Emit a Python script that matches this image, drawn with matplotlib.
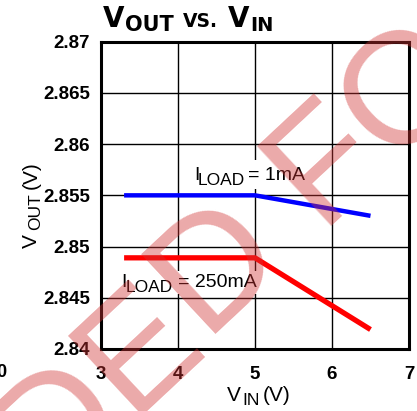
import matplotlib
matplotlib.use("Agg")
import matplotlib.pyplot as plt
from matplotlib.patches import Rectangle

# ---- data ----
vin_1ma = [3.3, 5.0, 6.5]
vout_1ma = [2.855, 2.855, 2.853]
vin_250ma = [3.3, 5.0, 6.5]
vout_250ma = [2.8489, 2.8489, 2.8419]
xticks = [3, 4, 5, 6, 7]
yticks = [2.84, 2.845, 2.85, 2.855, 2.86, 2.865, 2.87]
ytick_labels = ["2.84", "2.845", "2.85", "2.855", "2.86", "2.865", "2.87"]

W, H = 417, 411
FONT = "Liberation Sans"
TFONT = "DejaVu Sans"

fig = plt.figure(figsize=(W / 100, H / 100), dpi=100)
ax = fig.add_axes([101 / W, 1 - 349 / H, (409 - 101) / W, (349 - 41.7) / H])

ax.set_xlim(3, 7)
ax.set_ylim(2.84, 2.87)
ax.set_xticks(xticks)
ax.set_yticks(yticks)
ax.set_yticklabels(ytick_labels)
ax.grid(True, color="black", linewidth=1.0)
ax.set_axisbelow(True)
for s in ax.spines.values():
    s.set_linewidth(2.2)
    s.set_color("black")
ax.tick_params(length=0, pad=8)
for lab in ax.get_xticklabels() + ax.get_yticklabels():
    lab.set_fontfamily(FONT)
    lab.set_fontweight("bold")
    lab.set_fontsize(13.5)
ax.tick_params(axis="x", pad=12)

ax.plot(vin_1ma, vout_1ma, color="#0000ff", linewidth=3.2, zorder=3, solid_capstyle="butt")
ax.plot(vin_250ma, vout_250ma, color="#ff0000", linewidth=3.8, zorder=3, solid_capstyle="butt")


def px(x, y):
    return x / W, 1 - y / H


def ptext(x, y, s, size, weight="normal", family=FONT, **kw):
    fx, fy = px(x, y)
    return fig.text(fx, fy, s, fontsize=size, fontfamily=family, fontweight=weight,
                    va="baseline", ha="left", **kw)


# white boxes behind annotations
for (x0, y0, x1, y1) in [(190, 160, 312, 189), (118, 271, 259, 294)]:
    fx0, fy1 = px(x0, y0)
    fx1, fy0 = px(x1, y1)
    fig.patches.append(Rectangle((fx0, fy0), fx1 - fx0, fy1 - fy0, transform=fig.transFigure,
                                 facecolor="white", edgecolor="none", zorder=2))

# annotations
ptext(194, 180, "I", 14, zorder=4)
ptext(198, 185, "LOAD", 12.5, zorder=4)
ptext(248, 180, "= 1mA", 14, zorder=4)
ptext(121, 287, "I", 14, zorder=4)
ptext(126, 292, "LOAD", 12.5, zorder=4)
ptext(178, 287, "= 250mA", 14, zorder=4)

# title
ptext(103, 27, "V", 20, "bold", TFONT)
ptext(125, 31, "OUT", 15, "bold", TFONT)
ptext(183, 27, "VS.", 13.5, "bold", TFONT)
ptext(228, 27, "V", 20, "bold", TFONT)
ptext(250, 31, "IN", 14, "bold", TFONT)

# x label
ptext(227, 401, "V", 15)
ptext(242, 405, "IN", 12.5)
ptext(263, 401, "(V)", 15)

# y label (rotated)
def rtext(x, y, s, size):
    fx, fy = px(x, y)
    return fig.text(fx, fy, s, fontsize=size, fontfamily=FONT, rotation=90,
                    rotation_mode="anchor", ha="left", va="baseline")

rtext(37, 248, "V", 15)
rtext(40, 230, "OUT", 12.5)
rtext(37, 189, "(V)", 15)

# stray tick label at the left edge
ptext(-4, 377, "0", 13, "bold")

# watermark
wm_col = (0.82, 0.2, 0.2)
P = px(207, 343)
fig.text(P[0], P[1], "D FOR NEW", fontsize=114, fontfamily=FONT, color=wm_col, alpha=0.42,
         rotation=43, rotation_mode="anchor", ha="left", va="baseline", zorder=10)
fig.text(P[0], P[1], "RECOMMENDE", fontsize=114, fontfamily=FONT, color=wm_col, alpha=0.42,
         rotation=43, rotation_mode="anchor", ha="right", va="baseline", zorder=10)

fig.savefig("out.png", dpi=100)
